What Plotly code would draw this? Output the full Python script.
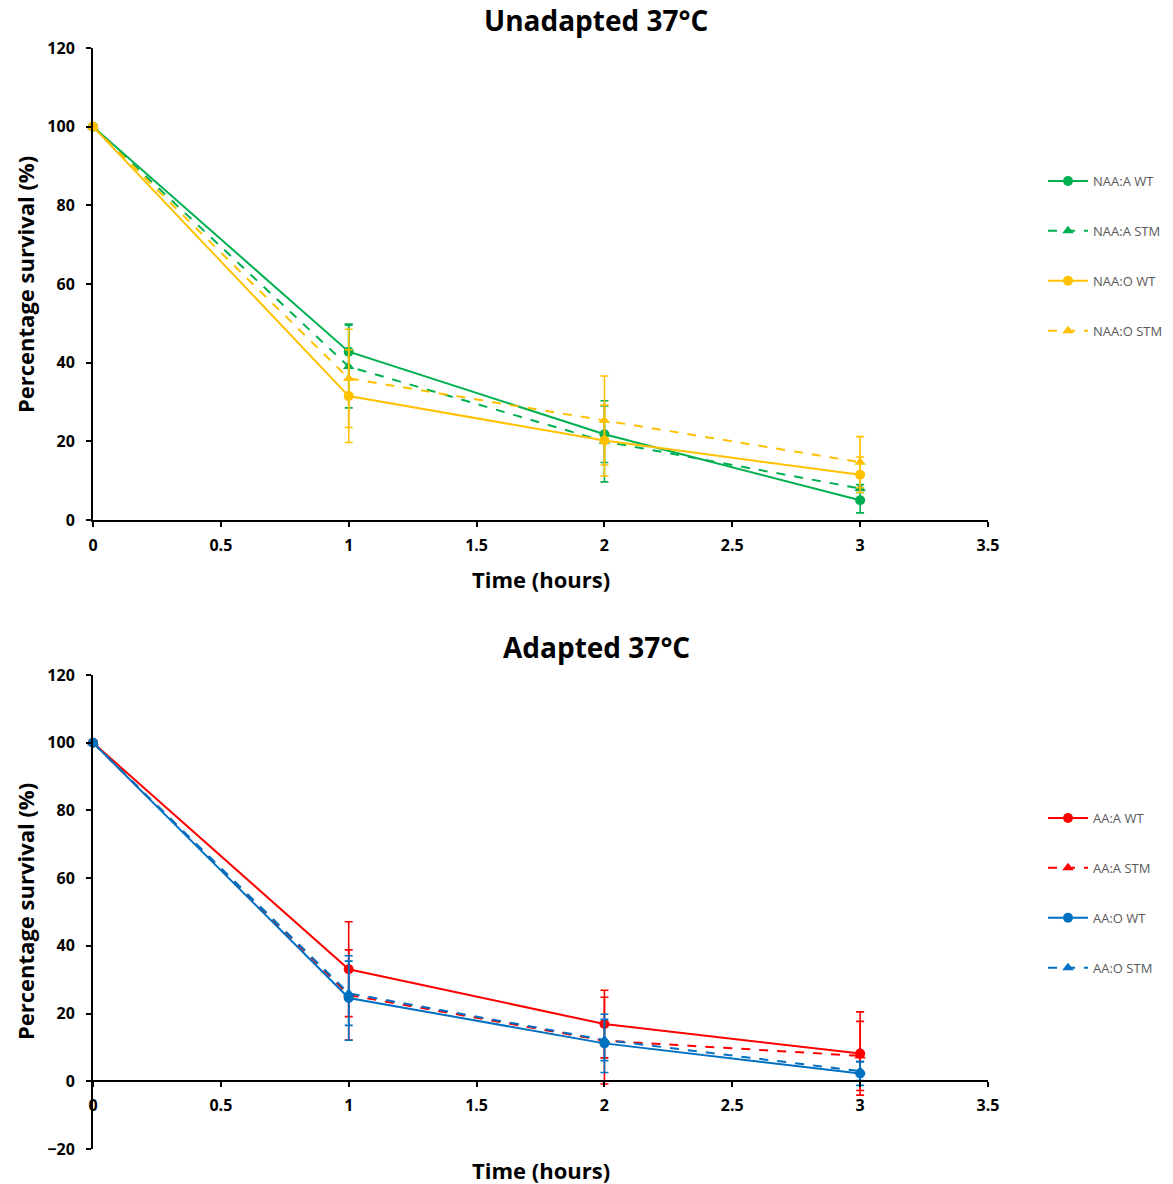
import plotly.graph_objects as go

hours = [0, 1, 2, 3]

# Unadapted 37°C
naa_a_wt = [100, 42.8, 21.8, 5.0]
naa_a_wt_err = [0, 7.0, 7.2, 3.2]
naa_a_stm = [100, 39.0, 20.0, 8.0]
naa_a_stm_err = [0, 10.5, 10.3, 1.0]
naa_o_wt = [100, 31.5, 20.2, 11.5]
naa_o_wt_err = [0, 11.8, 9.0, 4.5]
naa_o_stm = [100, 36.0, 25.3, 14.7]
naa_o_stm_err = [0, 12.5, 11.3, 6.5]

# Adapted 37°C
aa_a_wt = [100, 33.1, 16.9, 8.2]
aa_a_wt_err = [0, 14.0, 10.0, 12.3]
aa_a_stm = [100, 25.5, 12.0, 7.5]
aa_a_stm_err = [0, 13.3, 12.8, 10.2]
aa_o_wt = [100, 24.6, 11.2, 2.3]
aa_o_wt_err = [0, 12.5, 8.6, 3.5]
aa_o_stm = [100, 26.0, 12.2, 3.0]
aa_o_stm_err = [0, 9.5, 6.1, 2.8]

GREEN = "#00B050"
YELLOW = "#FFC000"
RED = "#FF0000"
BLUE = "#0070C0"

FONT = "Open Sans"

fig = go.Figure()

def add(name, y, err, color, dash, symbol, xa, ya, legend, group):
    fig.add_trace(go.Scatter(
        x=hours, y=y, name=name, mode="lines+markers",
        line=dict(color=color, width=2, dash=dash),
        marker=dict(color=color, size=10, symbol=symbol),
        error_y=dict(type="data", array=err, arrayminus=err, color=color,
                     thickness=1.6, width=4, visible=True),
        xaxis=xa, yaxis=ya, legend=legend, legendgroup=group,
        cliponaxis=False,
    ))

add("NAA:A WT", naa_a_wt, naa_a_wt_err, GREEN, "solid", "circle", "x", "y", "legend", "g1")
add("NAA:A STM", naa_a_stm, naa_a_stm_err, GREEN, "dash", "triangle-up", "x", "y", "legend", "g2")
add("NAA:O WT", naa_o_wt, naa_o_wt_err, YELLOW, "solid", "circle", "x", "y", "legend", "g3")
add("NAA:O STM", naa_o_stm, naa_o_stm_err, YELLOW, "dash", "triangle-up", "x", "y", "legend", "g4")

add("AA:A WT", aa_a_wt, aa_a_wt_err, RED, "solid", "circle", "x2", "y2", "legend2", "h1")
add("AA:A STM", aa_a_stm, aa_a_stm_err, RED, "dash", "triangle-up", "x2", "y2", "legend2", "h2")
add("AA:O WT", aa_o_wt, aa_o_wt_err, BLUE, "solid", "circle", "x2", "y2", "legend2", "h3")
add("AA:O STM", aa_o_stm, aa_o_stm_err, BLUE, "dash", "triangle-up", "x2", "y2", "legend2", "h4")

W, H = 1173, 1184
xdom = [93 / W, 988 / W]
ydom_top = [1 - 520 / H, 1 - 48 / H]
ydom_bot = [1 - 1149 / H, 1 - 675 / H]
y0_bot = 1 - 1081 / H

tickfont = dict(family=FONT, size=16, color="black", weight="bold")
axis_common = dict(showgrid=False, zeroline=False, showline=True, linecolor="black",
                   linewidth=2, ticks="outside", ticklen=5, tickwidth=2, tickcolor="black",
                   tickfont=tickfont, automargin=False)

legend_font = dict(family=FONT, size=13, color="#595959")

fig.update_layout(
    width=W, height=H,
    margin=dict(l=0, r=0, t=0, b=0, autoexpand=False),
    paper_bgcolor="white", plot_bgcolor="white",
    xaxis=dict(domain=xdom, range=[0, 3.5], dtick=0.5, anchor="y", ticklabelstandoff=5,
               **axis_common),
    yaxis=dict(domain=ydom_top, range=[0, 120], dtick=20, anchor="x", ticklabelstandoff=8,
               **axis_common),
    xaxis2=dict(domain=xdom, range=[0, 3.5], dtick=0.5, anchor="free", position=y0_bot,
                ticklabelstandoff=5, **axis_common),
    yaxis2=dict(domain=ydom_bot, range=[-20, 120], dtick=20, anchor="x2", ticklabelstandoff=8,
                **axis_common),
    legend=dict(x=1043 / W, y=1 - 166 / H, xanchor="left", yanchor="top",
                font=legend_font, tracegroupgap=30, itemwidth=40,
                bgcolor="rgba(0,0,0,0)"),
    legend2=dict(x=1043 / W, y=1 - 803 / H, xanchor="left", yanchor="top",
                 font=legend_font, tracegroupgap=30, itemwidth=40,
                 bgcolor="rgba(0,0,0,0)"),
    showlegend=True,
)

title_font = dict(family=FONT, size=28, color="black", weight="bold")
axtitle_font = dict(family=FONT, size=22, color="black", weight="bold")

fig.add_annotation(text="Unadapted 37°C", x=596 / W, y=1 - 20 / H, xref="paper", yref="paper",
                   showarrow=False, font=title_font, xanchor="center", yanchor="middle")
fig.add_annotation(text="Adapted 37°C", x=596 / W, y=1 - 647 / H, xref="paper", yref="paper",
                   showarrow=False, font=title_font, xanchor="center", yanchor="middle")
fig.add_annotation(text="Time (hours)", x=541 / W, y=1 - 579 / H, xref="paper", yref="paper",
                   showarrow=False, font=axtitle_font, xanchor="center", yanchor="middle")
fig.add_annotation(text="Time (hours)", x=541 / W, y=1 - 1170 / H, xref="paper", yref="paper",
                   showarrow=False, font=axtitle_font, xanchor="center", yanchor="middle")
fig.add_annotation(text="Percentage survival (%)", x=25 / W, y=1 - 285 / H, xref="paper",
                   yref="paper", showarrow=False, font=axtitle_font, textangle=-90,
                   xanchor="center", yanchor="middle")
fig.add_annotation(text="Percentage survival (%)", x=25 / W, y=1 - 912 / H, xref="paper",
                   yref="paper", showarrow=False, font=axtitle_font, textangle=-90,
                   xanchor="center", yanchor="middle")

fig.write_html("out.html")
